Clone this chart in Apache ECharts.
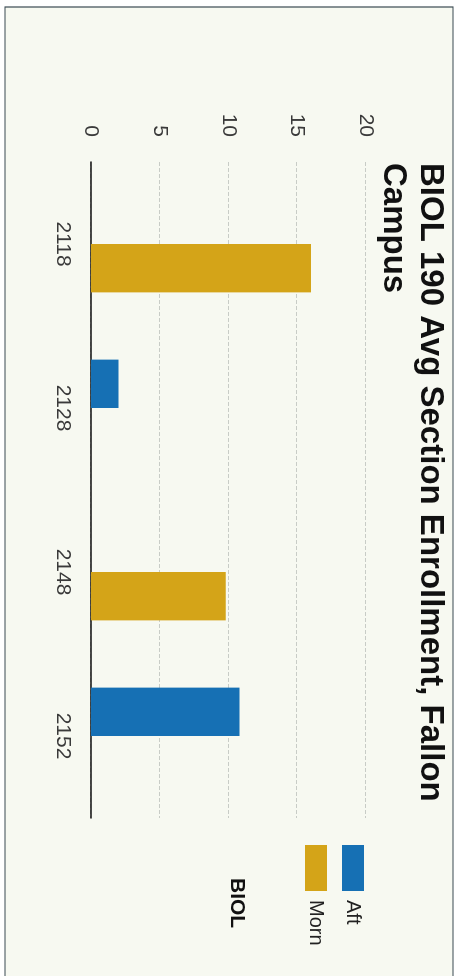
<!DOCTYPE html>
<html>
<head>
<meta charset="utf-8">
<script src="https://cdn.jsdelivr.net/npm/echarts@6/dist/echarts.min.js"></script>
<style>
  html, body { margin: 0; padding: 0; background: #ffffff; overflow: hidden; }
  /* the chart is photographed lying on its side, so draw it landscape and turn it */
  #chart {
    position: absolute; left: 0; top: 0;
    width: 976px; height: 473px;
    transform-origin: 0 0;
    transform: translateX(473px) rotate(90deg);
  }
</style>
</head>
<body>
<div id="chart"></div>
<script>
var sections = ['2118', '2128', '2148', '2152'];
var aftValues = [null, 2, null, 10.8];
var mornValues = [16, null, 9.8, null];
var valueTicks = [0, 5, 10, 15, 20];

var chart = echarts.init(document.getElementById('chart'));

var option = {
    animation: false,
    backgroundColor: '#ffffff',
    textStyle: { fontFamily: 'Liberation Sans, Arial, sans-serif' },
    graphic: [
        {
            type: 'rect',
            z: -10,
            shape: { x: 7, y: 20, width: 990, height: 448 },
            style: { fill: '#f7f9f1', stroke: '#3a4a52', lineWidth: 1.2 }
        },
        {
            type: 'text',
            left: 878, top: 226,
            style: {
                text: 'BIOL',
                font: 'bold 21px Liberation Sans, Arial, sans-serif',
                fill: '#111111'
            }
        }
    ],
    title: {
        text: 'BIOL 190 Avg Section Enrollment, Fallon\nCampus',
        left: 158,
        top: 19,
        textStyle: {
            fontSize: 33,
            fontWeight: 'bold',
            color: '#111111',
            lineHeight: 37,
            fontFamily: 'Liberation Sans, Arial, sans-serif'
        }
    },
    legend: {
        orient: 'vertical',
        left: 840,
        top: 104,
        itemWidth: 46,
        itemHeight: 22,
        itemGap: 15,
        icon: 'rect',
        textStyle: { fontSize: 20, color: '#222222', padding: [0, 0, 0, 4] },
        data: ['Aft', 'Morn']
    },
    grid: {
        left: 162,
        right: 158,
        top: 107,
        bottom: 91
    },
    xAxis: {
        type: 'category',
        data: sections,
        axisLine: { lineStyle: { color: '#111111', width: 1.5 } },
        axisTick: { show: false },
        axisLabel: { fontSize: 21, color: '#3a3a3a', margin: 18 }
    },
    yAxis: {
        type: 'value',
        min: valueTicks[0],
        max: valueTicks[valueTicks.length - 1],
        interval: 5,
        axisLine: { show: false },
        axisTick: { show: false },
        axisLabel: { fontSize: 21, color: '#3a3a3a', margin: 25 },
        splitLine: { lineStyle: { color: '#c8ccc6', type: 'dashed', width: 1 } }
    },
    series: [
        {
            name: 'Aft',
            type: 'bar',
            data: aftValues,
            barGap: '0%',
            barCategoryGap: '41%',
            itemStyle: { color: '#1670b4' }
        },
        {
            name: 'Morn',
            type: 'bar',
            data: mornValues,
            barGap: '0%',
            barCategoryGap: '41%',
            itemStyle: { color: '#d4a418' }
        }
    ]
};

chart.setOption(option);
</script>
</body>
</html>
